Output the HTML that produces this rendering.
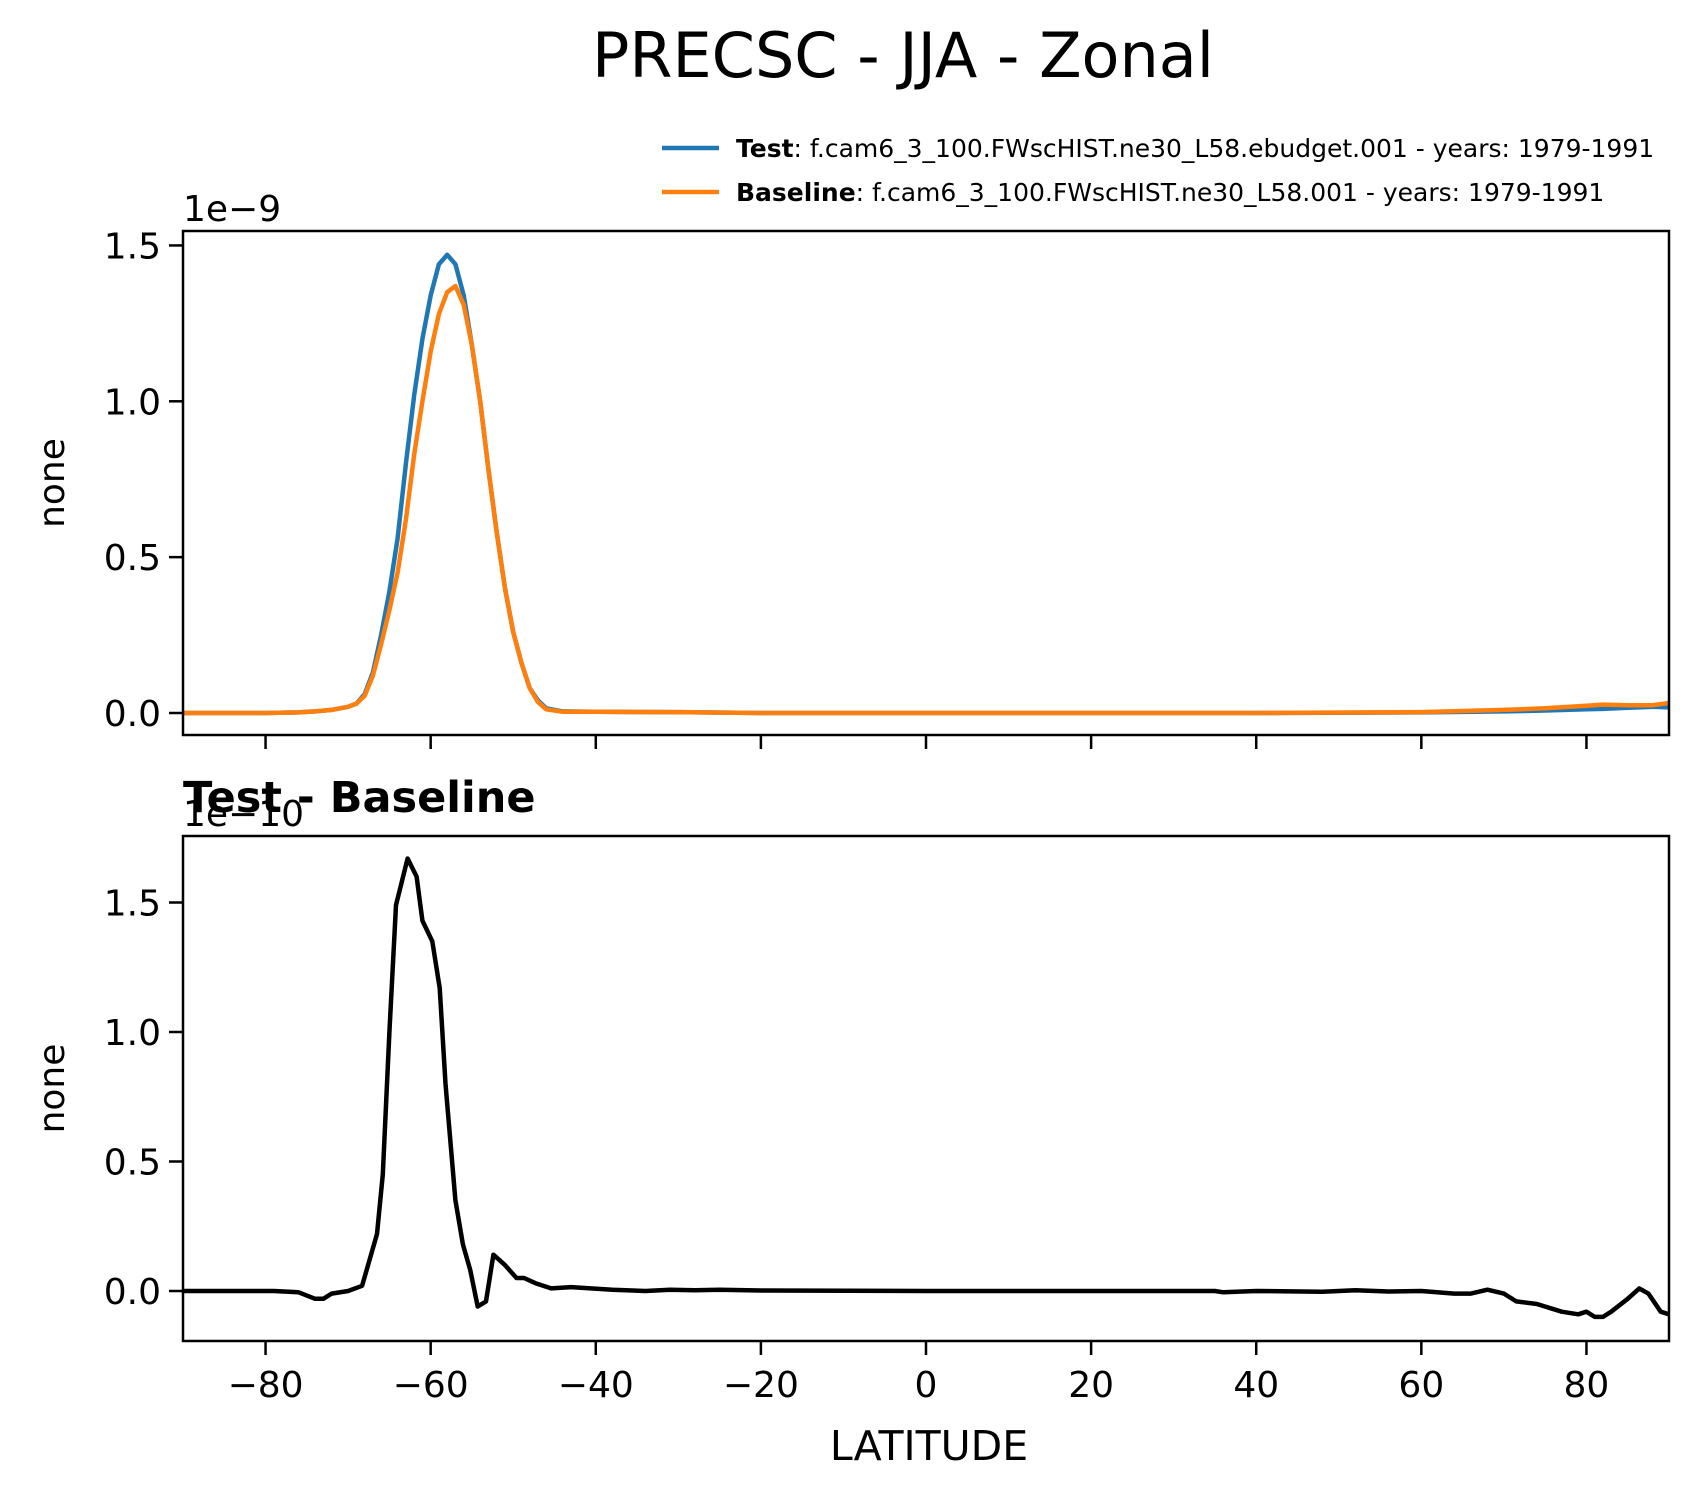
<!DOCTYPE html>
<html><head><meta charset="utf-8"><style>
body{margin:0;background:#fff}
svg{display:block;font-family:"DejaVu Sans","Liberation Sans",sans-serif}
</style></head><body>
<svg id="fig" width="1700" height="1496" viewBox="0 0 1700 1496">
<text x="903" y="77" font-size="62" text-anchor="middle">PRECSC - JJA - Zonal</text>
<g>
<line x1="662" y1="148" x2="719" y2="148" stroke="#1f77b4" stroke-width="4.5"/>
<text x="736" y="157" font-size="25"><tspan font-weight="bold">Test</tspan>: f.cam6_3_100.FWscHIST.ne30_L58.ebudget.001 - years: 1979-1991</text>
<line x1="662" y1="192" x2="719" y2="192" stroke="#ff7f0e" stroke-width="4.5"/>
<text x="736" y="201" font-size="25"><tspan font-weight="bold">Baseline</tspan>: f.cam6_3_100.FWscHIST.ne30_L58.001 - years: 1979-1991</text>
</g>
<g id="top"></g>
<g id="bot"></g>
<text x="183" y="812" font-size="43" font-weight="bold">Test - Baseline</text>
<text x="929" y="1460" font-size="41" text-anchor="middle">LATITUDE</text>
</svg>
<script>
const xTicks=[-80,-60,-40,-20,0,20,40,60,80];
const topYTicks=[0,0.5,1.0,1.5];
const botYTicks=[0,0.5,1.0,1.5];
const latTop=[-90,-80,-76,-74,-72,-70,-69,-68,-67,-66,-65,-64,-63,-62,-61,-60,-59,-58,-57,-56,-55,-54,-53,-52,-51,-50,-49,-48,-47,-46,-44,-40,-30,-20,0,20,40,60,70,75,80,82,85,88,90];
const testVals=[0,0,0.002,0.005,0.01,0.02,0.03,0.06,0.13,0.25,0.39,0.56,0.8,1.02,1.2,1.34,1.44,1.47,1.44,1.34,1.18,1.0,0.78,0.58,0.4,0.26,0.16,0.08,0.04,0.015,0.005,0.004,0.003,0,0,0,0,0.002,0.005,0.008,0.012,0.013,0.017,0.02,0.018];
const baseVals=[0,0,0.002,0.005,0.01,0.02,0.03,0.055,0.12,0.22,0.33,0.45,0.62,0.83,1.0,1.16,1.28,1.35,1.37,1.31,1.18,1.0,0.78,0.58,0.4,0.26,0.16,0.08,0.035,0.012,0.004,0.004,0.003,0,0,0,0,0.003,0.01,0.015,0.023,0.027,0.025,0.025,0.032];
const latDiff=[-90,-79,-76,-74,-73,-72,-70,-68.3,-66.5,-65.8,-65,-64.2,-62.8,-61.7,-61,-59.8,-58.9,-58.2,-57,-56.1,-55.2,-54.3,-53.3,-52.4,-51,-49.6,-48.7,-47.3,-45.4,-43,-38,-34,-31,-28,-25,-20,0,35,36,40,48,52,56,60,64,66,68,70,71.5,74,77,79,80,81,82,83,85,86.4,87.5,89,90];
const diffVals=[0,0,-0.005,-0.03,-0.03,-0.01,0,0.02,0.22,0.45,1.0,1.49,1.67,1.6,1.43,1.35,1.17,0.8,0.35,0.18,0.08,-0.06,-0.04,0.14,0.1,0.05,0.05,0.03,0.01,0.015,0.005,0,0.005,0.003,0.005,0.002,0,0,-0.005,0,-0.003,0.003,-0.002,0,-0.01,-0.01,0.005,-0.01,-0.04,-0.05,-0.08,-0.09,-0.08,-0.1,-0.1,-0.08,-0.03,0.01,-0.01,-0.08,-0.09];
const NS="http://www.w3.org/2000/svg";
const X0=183,X1=1669;
const sx=v=>X0+(v+90)/180*(X1-X0);
function el(p,t,a){const e=document.createElementNS(NS,t);for(const k in a)e.setAttribute(k,a[k]);p.appendChild(e);return e;}
function panel(g,top,bot,yZero,yPerUnit,yTicks,mult,showX,series,prefix){
  const sy=v=>yZero-v*yPerUnit;
  series.forEach(s=>{
    const d=s.x.map((x,i)=>(i?'L':'M')+sx(x).toFixed(1)+','+sy(s.y[i]).toFixed(1)).join('');
    const p=el(g,'path',{d:d,fill:'none',stroke:s.c,'stroke-width':4.5,'stroke-linejoin':'round'});
    
    
  });
  const r=el(g,'rect',{x:X0,y:top,width:X1-X0,height:bot-top,fill:'none',stroke:'#000','stroke-width':2.5});
  
  
  yTicks.forEach(t=>{
    const y=sy(t);
    const l=el(g,'line',{x1:X0-14,x2:X0,y1:y,y2:y,stroke:'#000','stroke-width':2.5});
    
    
    const tx=el(g,'text',{x:X0-22,y:y+13,'font-size':36,'text-anchor':'end'});
    tx.textContent=t.toFixed(1);
    
    
  });
  xTicks.forEach(t=>{
    const x=sx(t);
    const l=el(g,'line',{x1:x,x2:x,y1:bot,y2:bot+14,stroke:'#000','stroke-width':2.5});
    
    
    if(showX){
      const tx=el(g,'text',{x:x,y:bot+56,'font-size':36,'text-anchor':'middle'});
      tx.textContent=(t<0?'\u2212':'')+Math.abs(t);
      
      
    }
  });
  const m=el(g,'text',{x:X0,y:top-10,'font-size':36});
  m.textContent=mult;
  
  
  const yl=el(g,'text',{x:0,y:0,'font-size':36,'text-anchor':'middle',transform:'translate(64,'+((top+bot)/2)+') rotate(-90)'});
  yl.textContent='none';
  
  
}
panel(document.getElementById('top'),231,735,713,311.7,topYTicks,'1e\u22129',false,
 [{x:latTop,y:testVals,c:'#1f77b4',n:'test-line'},{x:latTop,y:baseVals,c:'#ff7f0e',n:'baseline-line'}],'top');
panel(document.getElementById('bot'),836,1341,1291,259,botYTicks,'1e\u221210',true,
 [{x:latDiff,y:diffVals,c:'#000',n:'difference-line'}],'bottom');
</script>
</body></html>
